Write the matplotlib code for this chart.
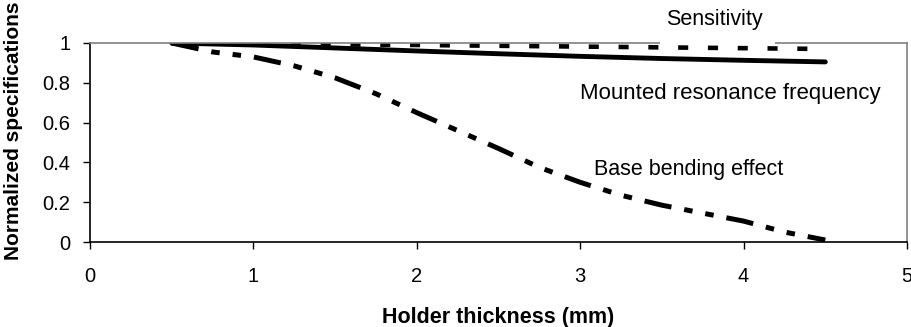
import matplotlib
matplotlib.use("Agg")
import matplotlib.pyplot as plt
from matplotlib.patches import Rectangle

plt.rcParams['font.family'] = ['Liberation Sans', 'DejaVu Sans']

thickness = [0.5, 1.0, 1.5, 2.0, 2.5, 3.0, 3.5, 4.0, 4.5]
sensitivity = [1.0, 0.997, 0.993, 0.99, 0.986, 0.982, 0.978, 0.974, 0.97]
resonance = [1.0, 0.99, 0.975, 0.96, 0.946, 0.933, 0.922, 0.913, 0.905]

bending_thickness = [0.5, 0.75, 1.0, 1.25, 1.5, 1.75, 2.0, 2.25, 2.5, 2.75,
                     3.0, 3.25, 3.5, 3.75, 4.0, 4.25, 4.5]
base_bending = [1.0, 0.955, 0.93, 0.885, 0.825, 0.745, 0.65, 0.56, 0.47, 0.375,
                0.30, 0.235, 0.185, 0.145, 0.105, 0.05, 0.01]

xticks = [0, 1, 2, 3, 4, 5]
yticks = [0, 0.2, 0.4, 0.6, 0.8, 1]
ytick_labels = ['0', '0.2', '0.4', '0.6', '0.8', '1']

W, H = 912, 327
fig = plt.figure(figsize=(W / 100, H / 100), dpi=100)
ax = fig.add_axes([90 / W, 1 - 242 / H, (907 - 90) / W, (242 - 43) / H])

ax.plot(thickness, sensitivity, color='black', lw=3.3, dashes=(2.2, 4.3),
        dash_capstyle='butt', zorder=2)
ax.plot(thickness, resonance, color='black', lw=3.5, solid_capstyle='round', zorder=2.1)
ax.plot(bending_thickness, base_bending, color='black', lw=3.6,
        dashes=(5.5, 2.6, 1.7, 2.6, 1.7, 2.6), dash_capstyle='butt', zorder=2)

ax.set_xlim(0, 5)
ax.set_ylim(0, 1)
ax.set_xticks(xticks)
ax.set_xticklabels([str(v) for v in xticks])
ax.set_yticks(yticks)
ax.set_yticklabels(ytick_labels)

for s in ['left', 'bottom']:
    ax.spines[s].set_color('black')
    ax.spines[s].set_linewidth(1.2)
for s in ['top', 'right']:
    ax.spines[s].set_color('#808080')
    ax.spines[s].set_linewidth(1.2)

ax.tick_params(axis='both', direction='out', length=5, width=1, colors='black',
               labelsize=14.5)
ax.tick_params(axis='y', pad=9)
ax.tick_params(axis='x', pad=13)

# white gap in the top frame behind "Sensitivity"
ax.add_patch(Rectangle(((660 - 90) / 817, 0.99), (775 - 660) / 817, 0.04,
                       transform=ax.transAxes, facecolor='white', edgecolor='none',
                       clip_on=False, zorder=3))

fig.text(714 / W, 1 - 20 / H, 'Sensitivity', ha='center', va='center', fontsize=15.5)
fig.text(730 / W, 1 - 93 / H, 'Mounted resonance frequency', ha='center', va='center',
         fontsize=16)
fig.text(689 / W, 1 - 170 / H, 'Base bending effect', ha='center', va='center',
         fontsize=15.5)

fig.text(498 / W, 1 - 317 / H, 'Holder thickness (mm)', ha='center', va='center',
         fontsize=15.5, fontweight='bold')
fig.text(14 / W, 1 - 131 / H, 'Normalized specifications', ha='center', va='center',
         rotation=90, fontsize=15, fontweight='bold')

fig.savefig('out.png', dpi=100)
